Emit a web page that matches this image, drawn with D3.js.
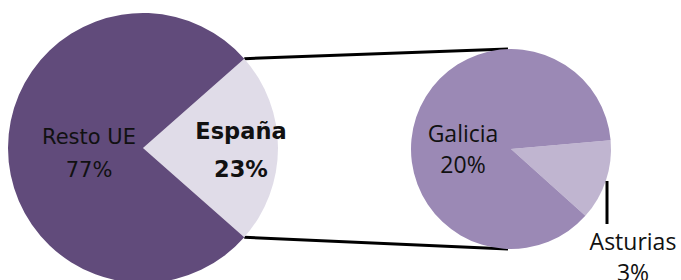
<!DOCTYPE html>
<html>
<head>
<meta charset="utf-8">
<script src="https://cdn.jsdelivr.net/npm/d3@7"></script>
<style>
  body { margin: 0; background: #fff; }
  svg { display: block; }
</style>
</head>
<body>
<div id="chart"></div>
<script>
// main pie: Spain vs rest of EU
var mainLabels = ["España", "Resto UE"];
var mainValues = [23, 77];
var mainColors = ["#e0dce8", "#614b7b"];

// detail pie: breakdown of Spain
var subLabels = ["Asturias", "Galicia"];
var subValues = [3, 20];
var subColors = ["#c0b5d0", "#9b89b5"];

var width = 681, height = 280;

var svg = d3.select("#chart").append("svg")
  .attr("width", width)
  .attr("height", height);

var deg = Math.PI / 180;

// left pie, Spain slice centred on the right side
var mainR = 135, mainCx = 143, mainCy = 148;
var spainShare = mainValues[0] / d3.sum(mainValues);
var mainStart = Math.PI / 2 - spainShare * Math.PI;
var mainPie = d3.pie().sort(null).startAngle(mainStart).endAngle(mainStart + 2 * Math.PI);
var mainArcs = mainPie(mainValues);
var mainArc = d3.arc().innerRadius(0).outerRadius(mainR);

// right pie
var subR = 100, subCx = 511, subCy = 149;
var subStart = 85 * deg;
var subPie = d3.pie().sort(null).startAngle(subStart).endAngle(subStart + 2 * Math.PI);
var subArcs = subPie(subValues);
var subArc = d3.arc().innerRadius(0).outerRadius(subR);

// connector lines from the Spain slice edges to top/bottom of the right pie
var a0 = mainArcs[0].startAngle, a1 = mainArcs[0].endAngle;
var p0 = [mainCx + mainR * Math.sin(a0), mainCy - mainR * Math.cos(a0)];
var p1 = [mainCx + mainR * Math.sin(a1), mainCy - mainR * Math.cos(a1)];
svg.append("line")
  .attr("x1", p0[0]).attr("y1", p0[1])
  .attr("x2", subCx - 3).attr("y2", subCy - subR)
  .attr("stroke", "#000").attr("stroke-width", 3);
svg.append("line")
  .attr("x1", p1[0]).attr("y1", p1[1])
  .attr("x2", subCx - 3).attr("y2", subCy + subR)
  .attr("stroke", "#000").attr("stroke-width", 3);

var gMain = svg.append("g").attr("transform", "translate(" + mainCx + "," + mainCy + ")");
gMain.selectAll("path").data(mainArcs).enter().append("path")
  .attr("d", mainArc)
  .attr("fill", function(d, i) { return mainColors[i]; });

var gSub = svg.append("g").attr("transform", "translate(" + subCx + "," + subCy + ")");
gSub.selectAll("path").data(subArcs).enter().append("path")
  .attr("d", subArc)
  .attr("fill", function(d, i) { return subColors[i]; });

function pct(v, arr) { return Math.round(100 * v / d3.sum(arr)) + "%"; }

// labels
function label(x, y, lines, opts) {
  var t = svg.append("text")
    .attr("x", x).attr("y", y)
    .attr("text-anchor", "middle")
    .attr("font-family", opts.family)
    .attr("font-size", opts.size)
    .attr("font-weight", opts.weight || "normal")
    .attr("fill", "#111");
  lines.forEach(function(s, i) {
    t.append("tspan").attr("x", x).attr("dy", i === 0 ? 0 : opts.lh).text(s);
  });
}

label(89, 144, [mainLabels[1], pct(mainValues[1], mainValues)],
  {family: "DejaVu Sans", size: 21, lh: 33});
label(241, 139, [mainLabels[0], pct(mainValues[0], mainValues)],
  {family: "DejaVu Sans", size: 22.5, weight: "bold", lh: 38});

// right pie labels are shares of the whole total
var total = d3.sum(mainValues);
label(463, 142, [subLabels[1], Math.round(100 * subValues[1] / total) + "%"],
  {family: "Open Sans", size: 23, lh: 31});
label(633, 250, [subLabels[0], Math.round(100 * subValues[0] / total) + "%"],
  {family: "Open Sans", size: 23, lh: 31});

// leader line for Asturias
svg.append("line")
  .attr("x1", 607).attr("y1", 181)
  .attr("x2", 607).attr("y2", 224)
  .attr("stroke", "#000").attr("stroke-width", 3);
</script>
</body>
</html>
